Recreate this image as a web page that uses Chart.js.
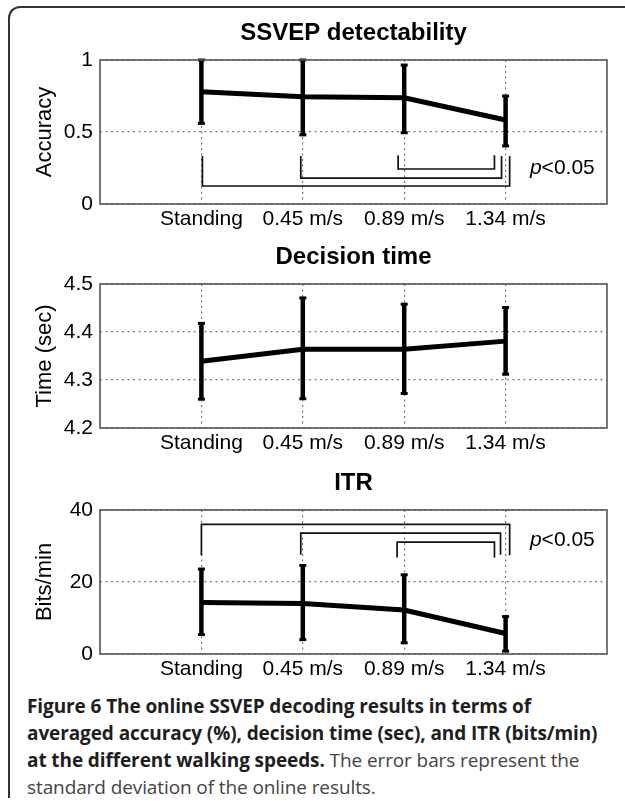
<!DOCTYPE html>
<html>
<head>
<meta charset="utf-8">
<script src="https://cdn.jsdelivr.net/npm/chart.js@4.4.1/dist/chart.umd.min.js"></script>
<style>
  body { margin: 0; background: #fff; }
  #page { position: relative; width: 625px; height: 804px; overflow: hidden; background: #fff; }
  #frame {
    position: absolute; left: 8px; top: 6px; width: 700px; height: 790px;
    border-top: 2px solid #333; border-left: 2px solid #333; border-top-left-radius: 12px;
  }
  canvas.panel { position: absolute; left: 0; }
  #caption {
    position: absolute; left: 27px; top: 693px; white-space: nowrap;
    font-family: "Open Sans", sans-serif; font-size: 19px; letter-spacing: -0.1px;
    line-height: 27px; color: #444;
  }
  #caption b { color: #1e1e1e; font-weight: 700; }
</style>
</head>
<body>
<div id="page">
  <div id="frame"></div>
  <canvas class="panel" id="accChart" style="top:0px"></canvas>
  <canvas class="panel" id="timeChart" style="top:224px"></canvas>
  <canvas class="panel" id="itrChart" style="top:450px"></canvas>
  <div id="caption"><b>Figure 6 The online SSVEP decoding results in terms of<br>averaged accuracy (%), decision time (sec), and ITR (bits/min)<br>at the different walking speeds.</b> The error bars represent the<br>standard deviation of the online results.</div>
</div>
<script>
// walking speed conditions
const speedLabels = ["Standing", "0.45 m/s", "0.89 m/s", "1.34 m/s"];
const speedPos = [1, 2, 3, 4];

// SSVEP detectability (accuracy)
const accMean = [0.78, 0.745, 0.738, 0.583];
const accLow = [0.56, 0.48, 0.495, 0.403];
const accHigh = [1.0, 1.0, 0.965, 0.75];
const accTicks = [0, 0.5, 1];
const accTickLabels = ["0", "0.5", "1"];
const accBracketFrom = [2.94, 1.98, 1.01];
const accBracketTo = [3.89, 3.96, 4.04];
const accBracketBar = [0.243, 0.18, 0.125];
const accBracketEnd = [0.338, 0.333, 0.333];

// decision time (sec)
const timeMean = [4.339, 4.364, 4.364, 4.381];
const timeLow = [4.26, 4.261, 4.272, 4.312];
const timeHigh = [4.418, 4.471, 4.458, 4.451];
const timeTicks = [4.2, 4.3, 4.4, 4.5];
const timeTickLabels = ["4.2", "4.3", "4.4", "4.5"];

// ITR (bits/min)
const itrMean = [14.3, 14.0, 12.2, 5.7];
const itrLow = [5.4, 4.0, 3.1, 0.8];
const itrHigh = [23.6, 24.6, 22.0, 10.4];
const itrTicks = [0, 20, 40];
const itrTickLabels = ["0", "20", "40"];
const itrBracketFrom = [1.0, 1.98, 2.93];
const itrBracketTo = [4.04, 3.95, 3.89];
const itrBracketBar = [36.0, 33.6, 31.1];
const itrBracketEnd = [27.4, 27.6, 26.8];

const FONT = "'Liberation Sans', Arial, Helvetica, sans-serif";
const W = 625, H = 232;

function bracketSets(from, to, bar, end) {
  return from.map((f, i) => ({
    type: "line",
    data: [
      { x: f, y: end[i] },
      { x: f, y: bar[i] },
      { x: to[i], y: bar[i] },
      { x: to[i], y: end[i] },
    ],
    borderColor: "#111",
    borderWidth: 1.7,
    pointRadius: 0,
    tension: 0,
  }));
}

function makeChart(id, o) {
  const canvas = document.getElementById(id);
  canvas.width = W;
  canvas.height = H;
  canvas.style.width = W + "px";
  canvas.style.height = H + "px";

  const grid = { color: "#777", lineWidth: 1.2, drawTicks: false };

  const extras = {
    id: "extras_" + id,
    afterDatasetsDraw(chart) {
      const ctx = chart.ctx;
      const xs = chart.scales.x, ys = chart.scales.y;
      ctx.save();
      ctx.strokeStyle = "#000";
      speedPos.forEach((p, i) => {
        const x = xs.getPixelForValue(p);
        const y1 = ys.getPixelForValue(o.low[i]);
        const y2 = ys.getPixelForValue(o.high[i]);
        ctx.lineWidth = 4.5;
        ctx.beginPath();
        ctx.moveTo(x, y1);
        ctx.lineTo(x, y2);
        ctx.stroke();
        // caps
        ctx.lineWidth = 3;
        [y1, y2].forEach((y) => {
          ctx.beginPath();
          ctx.moveTo(x - 3.5, y);
          ctx.lineTo(x + 3.5, y);
          ctx.stroke();
        });
      });
      if (o.note) {
        const nx = xs.getPixelForValue(o.note.x);
        const ny = ys.getPixelForValue(o.note.y);
        ctx.fillStyle = "#000";
        ctx.textBaseline = "middle";
        ctx.textAlign = "left";
        ctx.font = "italic 21px " + FONT;
        ctx.fillText("p", nx, ny);
        const pw = ctx.measureText("p").width;
        ctx.font = "21px " + FONT;
        ctx.fillText("<0.05", nx + pw, ny);
      }
      ctx.restore();
    },
    afterDraw(chart) {
      const a = chart.chartArea;
      const ctx = chart.ctx;
      ctx.save();
      ctx.strokeStyle = "#555";
      ctx.lineWidth = 1.6;
      ctx.strokeRect(a.left, a.top, a.right - a.left, a.bottom - a.top);
      // panel title, centred over the plot box like MATLAB does
      ctx.fillStyle = "#000";
      ctx.font = "bold 24px " + FONT;
      ctx.textAlign = "center";
      ctx.textBaseline = "middle";
      ctx.fillText(o.title, (a.left + a.right) / 2, a.top - 27);
      ctx.restore();
    },
  };

  return new Chart(canvas, {
    type: "line",
    data: {
      datasets: [
        {
          data: speedPos.map((p, i) => ({ x: p, y: o.mean[i] })),
          borderColor: "#000",
          borderWidth: 5,
          pointRadius: 0,
          tension: 0,
        },
      ].concat(o.brackets || []),
    },
    options: {
      responsive: false,
      animation: false,
      devicePixelRatio: 1,
      layout: { padding: { left: 0, right: 18, top: 60, bottom: 0 } },
      plugins: {
        legend: { display: false },
        tooltip: { enabled: false },
        title: { display: false },
      },
      scales: {
        x: {
          type: "linear",
          min: 0,
          max: 5,
          afterBuildTicks: (s) => { s.ticks = speedPos.map((v) => ({ value: v })); },
          afterFit: (s) => { s.height = 28; },
          ticks: {
            autoSkip: false,
            maxRotation: 0,
            padding: 3,
            color: "#000",
            font: { family: FONT, size: 21 },
            callback: (v, i) => speedLabels[i],
          },
          grid: grid,
          border: { display: false, dash: [2, 3.5] },
        },
        y: {
          min: o.ticks[0],
          max: o.ticks[o.ticks.length - 1],
          afterBuildTicks: (s) => { s.ticks = o.ticks.map((v) => ({ value: v })); },
          afterFit: (s) => { s.width = 100; },
          ticks: {
            padding: 7,
            color: "#000",
            font: { family: FONT, size: 21 },
            callback: (v, i) => o.tickLabels[i],
          },
          title: {
            display: true,
            text: o.yTitle,
            color: "#000",
            font: { family: FONT, size: 22 },
            padding: { top: 31.8, bottom: 0 },
          },
          grid: grid,
          border: { display: false, dash: [2, 3.5] },
        },
      },
    },
    plugins: [extras],
  });
}

makeChart("accChart", {
  title: "SSVEP detectability",
  yTitle: "Accuracy",
  mean: accMean, low: accLow, high: accHigh,
  ticks: accTicks, tickLabels: accTickLabels,
  brackets: bracketSets(accBracketFrom, accBracketTo, accBracketBar, accBracketEnd),
  note: { x: 4.24, y: 0.25 },
});

makeChart("timeChart", {
  title: "Decision time",
  yTitle: "Time (sec)",
  mean: timeMean, low: timeLow, high: timeHigh,
  ticks: timeTicks, tickLabels: timeTickLabels,
});

makeChart("itrChart", {
  title: "ITR",
  yTitle: "Bits/min",
  mean: itrMean, low: itrLow, high: itrHigh,
  ticks: itrTicks, tickLabels: itrTickLabels,
  brackets: bracketSets(itrBracketFrom, itrBracketTo, itrBracketBar, itrBracketEnd),
  note: { x: 4.24, y: 31.6 },
});
</script>
</body>
</html>
